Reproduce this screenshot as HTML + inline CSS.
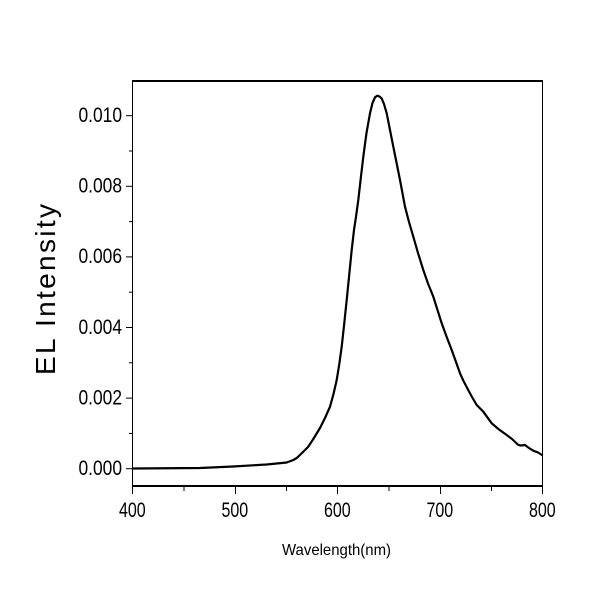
<!DOCTYPE html>
<html>
<head>
<meta charset="utf-8">
<style>
  html,body{margin:0;padding:0;background:#fff;}
  svg{display:block;}
  text{font-family:"Liberation Sans",Arial,sans-serif;fill:#000;}
</style>
</head>
<body>
<svg width="601" height="601" viewBox="0 0 601 601" xmlns="http://www.w3.org/2000/svg">
  <rect x="0" y="0" width="601" height="601" fill="#fff"/>
  <!-- frame -->
  <line x1="132" y1="81" x2="543" y2="81" stroke="#000" stroke-width="2"/>
  <line x1="132" y1="486" x2="543" y2="486" stroke="#000" stroke-width="2"/>
  <line x1="132.5" y1="80" x2="132.5" y2="494" stroke="#000" stroke-width="1"/>
  <line x1="542.5" y1="80" x2="542.5" y2="494" stroke="#000" stroke-width="1"/>

  <!-- y ticks -->
  <g stroke="#000" stroke-width="1">
    <line x1="126" y1="468.7" x2="132" y2="468.7"/>
    <line x1="126" y1="398.1" x2="132" y2="398.1"/>
    <line x1="126" y1="327.5" x2="132" y2="327.5"/>
    <line x1="126" y1="256.9" x2="132" y2="256.9"/>
    <line x1="126" y1="186.3" x2="132" y2="186.3"/>
    <line x1="126" y1="115.7" x2="132" y2="115.7"/>
    <line x1="129" y1="433.4" x2="132" y2="433.4"/>
    <line x1="129" y1="362.8" x2="132" y2="362.8"/>
    <line x1="129" y1="292.2" x2="132" y2="292.2"/>
    <line x1="129" y1="221.6" x2="132" y2="221.6"/>
    <line x1="129" y1="151" x2="132" y2="151"/>
  </g>
  <!-- x ticks -->
  <g stroke="#000" stroke-width="1">
    <line x1="235.5" y1="486" x2="235.5" y2="494"/>
    <line x1="337.5" y1="486" x2="337.5" y2="494"/>
    <line x1="440.5" y1="486" x2="440.5" y2="494"/>
    <line x1="184" y1="486" x2="184" y2="491"/>
    <line x1="286.5" y1="486" x2="286.5" y2="491"/>
    <line x1="389" y1="486" x2="389" y2="491"/>
    <line x1="491.5" y1="486" x2="491.5" y2="491"/>
  </g>

  <!-- y tick labels -->
  <g font-size="21.5" text-anchor="end">
    <text x="122" y="475" textLength="43.5" lengthAdjust="spacingAndGlyphs">0.000</text>
    <text x="122" y="404.4" textLength="43.5" lengthAdjust="spacingAndGlyphs">0.002</text>
    <text x="122" y="333.8" textLength="43.5" lengthAdjust="spacingAndGlyphs">0.004</text>
    <text x="122" y="263.2" textLength="43.5" lengthAdjust="spacingAndGlyphs">0.006</text>
    <text x="122" y="192.6" textLength="43.5" lengthAdjust="spacingAndGlyphs">0.008</text>
    <text x="122" y="122" textLength="43.5" lengthAdjust="spacingAndGlyphs">0.010</text>
  </g>
  <!-- x tick labels -->
  <g font-size="21.5">
    <text x="119" y="517" textLength="26.7" lengthAdjust="spacingAndGlyphs">400</text>
    <text x="221.5" y="517" textLength="26.7" lengthAdjust="spacingAndGlyphs">500</text>
    <text x="324" y="517" textLength="26.7" lengthAdjust="spacingAndGlyphs">600</text>
    <text x="426.5" y="517" textLength="26.7" lengthAdjust="spacingAndGlyphs">700</text>
    <text x="529" y="517" textLength="26.7" lengthAdjust="spacingAndGlyphs">800</text>
  </g>

  <!-- axis titles -->
  <text x="282" y="555" font-size="16" textLength="109" lengthAdjust="spacingAndGlyphs">Wavelength(nm)</text>
  <text transform="translate(55,375) rotate(-90)" x="0" y="0" font-size="28" textLength="171" lengthAdjust="spacing">EL Intensity</text>

  <!-- curve -->
  <polyline fill="none" stroke="#000" stroke-width="2.2" stroke-linejoin="round" stroke-linecap="round"
    points="133,468.5 200,468 233,466.5 266.7,464.5 286.7,462.5 293.3,460 297,457.8 302,453 308,447 313,439.5 320,428 325,418 330,406.7 333.5,394 336.7,380 339.3,364 341.7,346.7 344.3,323 346.7,300 349.2,275 351.7,250 354,230 356,216.7 358.3,200 360.8,178 363.3,156.7 366.5,133 370,113.3 372.5,103 375,97.3 377.3,95.7 379.5,96.5 381.7,98.5 384,104 386.7,113.3 390,130 393.3,146.7 396.7,163.5 400,180 405,206.7 409,222 413.3,236.7 418,253 423.3,270 428,283.5 433.3,296.7 437.5,310 441.7,323.3 446.7,337 451.7,350 456,362 460,373.3 463.5,381 467.3,388.3 472,397 476.7,405 483.3,411.7 491.7,423.3 499,429.5 506.7,435 512,439 518.3,445 521,445.5 525,445 529,448 533.3,450.7 538,452.5 542,455"/>
</svg>
</body>
</html>
